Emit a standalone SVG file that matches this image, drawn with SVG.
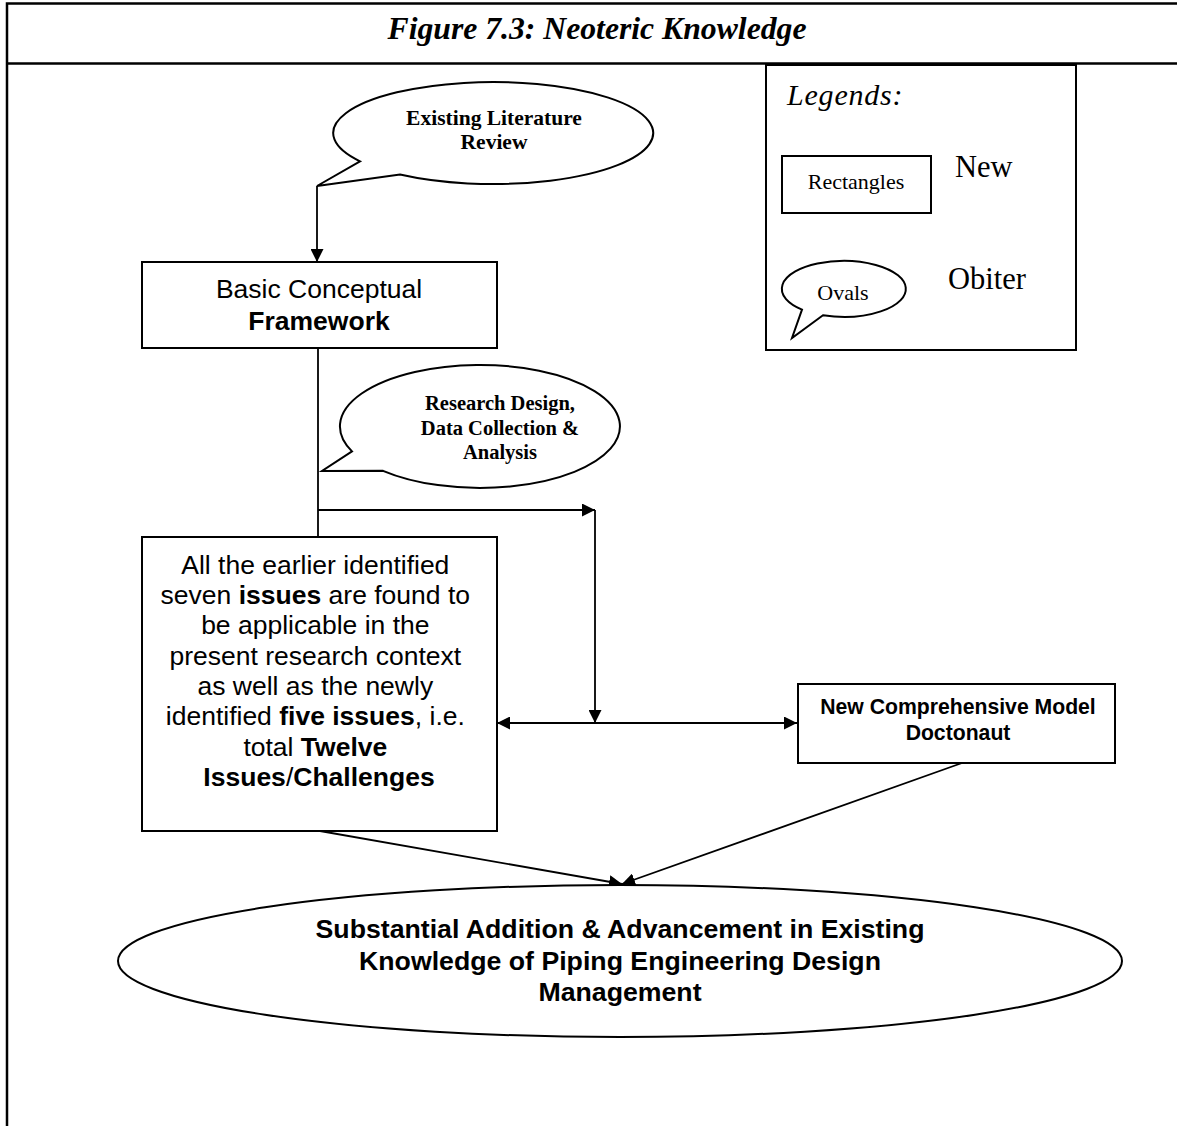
<svg xmlns="http://www.w3.org/2000/svg" width="1177" height="1126" viewBox="0 0 1177 1126">
  <style>
    .frame { fill: none; stroke: #000; stroke-width: 2.5; }
    .box { fill: #fff; stroke: #000; stroke-width: 2; }
    .oval { fill: #fff; stroke: #000; stroke-width: 2; stroke-linejoin: miter; }
    .conn { fill: none; stroke: #000; stroke-width: 1.8; }
    .serif { font-family: "Liberation Serif", "Times New Roman", serif; fill: #000; }
    .sans { font-family: "Liberation Sans", Arial, sans-serif; fill: #000; }
    .b { font-weight: bold; }
    .mid { text-anchor: middle; }
  </style>
  <defs>
    <marker id="arrow" viewBox="0 0 13 13" refX="13" refY="6.5" markerWidth="13" markerHeight="13" markerUnits="userSpaceOnUse" orient="auto-start-reverse">
      <path d="M0,0 L13,6.5 L0,13 Z" fill="#000"/>
    </marker>
  </defs>

  <rect width="1177" height="1126" fill="#fff"/>

  <!-- outer frame with title row -->
  <g id="frame">
    <path class="frame" d="M7,1126 V3.5 H1177"/>
    <line class="frame" x1="7" y1="63.5" x2="1177" y2="63.5"/>
    <text class="serif b mid" x="597" y="39" font-size="31.7" font-style="italic">Figure 7.3: Neoteric Knowledge</text>
  </g>

  <!-- legend panel -->
  <g id="legend">
    <rect class="box" x="766" y="65" width="310" height="285"/>
    <text class="serif" x="787" y="105" font-size="30" font-style="italic" letter-spacing="0.8">Legends:</text>
    <rect class="box" x="782" y="156" width="149" height="57"/>
    <text class="serif mid" x="856" y="189" font-size="22">Rectangles</text>
    <text class="serif" x="955" y="177" font-size="30.5">New</text>
    <path class="oval" d="M802,309.6 L792,338 L823,315.3 A62,28 0 1 0 802,309.6 Z"/>
    <text class="serif mid" x="843" y="300" font-size="22">Ovals</text>
    <text class="serif" x="948" y="289" font-size="30.5">Obiter</text>
  </g>

  <!-- connectors -->
  <g id="connectors">
    <line class="conn" x1="317" y1="186" x2="317" y2="262" marker-end="url(#arrow)"/>
    <line class="conn" x1="318" y1="348" x2="318" y2="537"/>
    <line class="conn" x1="318" y1="510" x2="595" y2="510" marker-end="url(#arrow)"/>
    <line class="conn" x1="595" y1="510" x2="595" y2="723" marker-end="url(#arrow)"/>
    <line class="conn" x1="497" y1="723" x2="797" y2="723" marker-start="url(#arrow)" marker-end="url(#arrow)"/>
    <line class="conn" x1="320" y1="831" x2="622" y2="884" marker-end="url(#arrow)"/>
    <line class="conn" x1="962" y1="763" x2="622" y2="884" marker-end="url(#arrow)"/>
  </g>

  <g id="existing-literature">
    <path class="oval" d="M360,161.3 L317,186 L400,174.5 A160,51 0 1 0 360,161.3 Z"/>
    <text class="serif b mid" font-size="21.5"><tspan x="494" y="125">Existing Literature</tspan><tspan x="494" y="149">Review</tspan></text>
  </g>

  <g id="basic-framework">
    <rect class="box" x="142" y="262" width="355" height="86"/>
    <text class="sans mid" font-size="26.5"><tspan x="319" y="298">Basic Conceptual</tspan><tspan x="319" y="330" font-weight="bold">Framework</tspan></text>
  </g>

  <g id="research-design">
    <path class="oval" d="M352,451.4 L322,471 L383,470.8 A140,61.5 0 1 0 352,451.4 Z"/>
    <text class="serif b mid" font-size="20.5"><tspan x="500" y="410">Research Design,</tspan><tspan x="500" y="435">Data Collection &amp;</tspan><tspan x="500" y="459">Analysis</tspan></text>
  </g>

  <g id="issues">
    <rect class="box" x="142" y="537" width="355" height="294"/>
    <text class="sans mid" font-size="26.5">
      <tspan x="319" y="574">All the earlier identified</tspan>
      <tspan x="319" y="604">seven <tspan font-weight="bold">issues</tspan> are found to</tspan>
      <tspan x="319" y="634">be applicable in the</tspan>
      <tspan x="319" y="665">present research context</tspan>
      <tspan x="319" y="695">as well as the newly</tspan>
      <tspan x="319" y="725">identified <tspan font-weight="bold">five issues</tspan>, i.e.</tspan>
      <tspan x="319" y="756">total <tspan font-weight="bold">Twelve</tspan></tspan>
      <tspan x="319" y="786" font-weight="bold">Issues<tspan font-weight="normal">/</tspan>Challenges</tspan>
    </text>
  </g>

  <g id="doctonaut">
    <rect class="box" x="798" y="684" width="317" height="79"/>
    <text class="sans b mid" font-size="21.2"><tspan x="958" y="714">New Comprehensive Model</tspan><tspan x="958" y="740">Doctonaut</tspan></text>
  </g>

  <g id="knowledge">
    <ellipse class="oval" cx="620" cy="961" rx="502" ry="76"/>
    <text class="sans b mid" font-size="26.7"><tspan x="620" y="938">Substantial Addition &amp; Advancement in Existing</tspan><tspan x="620" y="970">Knowledge of Piping Engineering Design</tspan><tspan x="620" y="1001">Management</tspan></text>
  </g>
</svg>
